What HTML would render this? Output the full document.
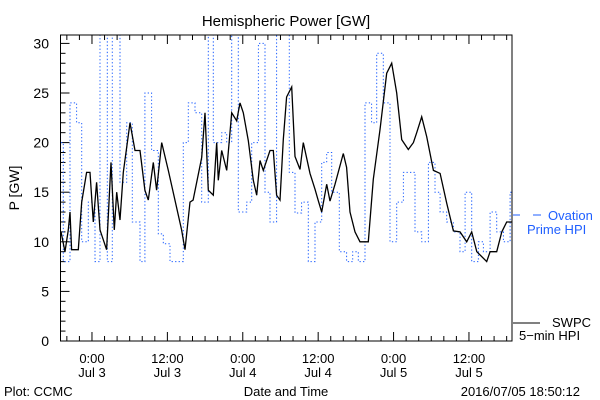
<!DOCTYPE html>
<html><head><meta charset="utf-8"><style>
body{margin:0;background:#fff;}
svg{display:block;font-family:"Liberation Sans",sans-serif;}
</style></head><body>
<svg id="chart" width="600" height="400" viewBox="0 0 600 400">
<rect width="600" height="400" fill="#fff"/>
<text x="286" y="26" font-size="15" text-anchor="middle">Hemispheric Power [GW]</text>
<text x="0" y="0" font-size="14" text-anchor="middle" transform="translate(19,188) rotate(-90)">P [GW]</text>
<g id="yticks"></g>
<g id="xticks"></g>
<defs><clipPath id="pc"><rect x="60.5" y="35" width="451.5" height="306"/></clipPath></defs>
<g clip-path="url(#pc)">
<path id="blue" fill="none" stroke="#1f5fff" stroke-width="1" stroke-dasharray="1.3 2.2"/>
<path id="black" fill="none" stroke="#000" stroke-width="1.3"/>
</g>
<rect x="60.5" y="35" width="451.5" height="306" fill="none" stroke="#000" stroke-width="1"/>
<g>
<line x1="513" y1="215" x2="520" y2="215" stroke="#1f5fff"/>
<line x1="533" y1="215" x2="541" y2="215" stroke="#1f5fff"/>
<text x="548" y="220" font-size="13" fill="#1f5fff">Ovation</text>
<text x="527" y="234" font-size="13" fill="#1f5fff">Prime HPI</text>
</g>
<g>
<line x1="513" y1="323" x2="540" y2="323" stroke="#000"/>
<text x="552" y="327" font-size="13">SWPC</text>
<text x="519" y="340" font-size="13">5−min HPI</text>
</g>
<text x="286" y="396" font-size="13" text-anchor="middle">Date and Time</text>
<text x="4" y="396" font-size="13">Plot: CCMC</text>
<text x="580" y="396" font-size="13" text-anchor="end">2016/07/05 18:50:12</text>
</svg>
<script>
const blackHours=[-4.93,-4.30,-3.77,-3.50,-3.24,-2.18,-1.64,-0.85,-0.32,0.21,0.74,1.27,2.33,3.02,3.55,3.93,4.46,4.99,6.05,6.84,7.64,8.43,8.96,9.76,10.29,11.09,12.15,14.27,14.8,15.6,16.1,17.46,17.99,18.52,19.31,19.85,20.11,20.64,21.44,22.23,23.03,23.56,24.09,24.88,25.68,26.21,26.74,27.27,28.33,28.86,29.39,29.92,30.45,30.98,31.78,32.31,33.11,33.64,34.70,35.50,36.03,36.56,37.35,37.88,38.68,40.0,40.53,41.06,41.86,42.66,43.98,44.78,45.84,46.90,47.70,48.50,49.29,50.35,51.15,51.68,52.48,53.27,54.34,55.40,56.46,57.52,58.58,59.64,60.44,61.24,62.83,63.36,64.42,65.22,66.01,66.81];
const blackValues=[11.0,9.0,11.2,13.0,9.2,9.2,14.0,17.0,17.0,12.0,16.0,11.2,9.2,18.0,11.2,15.0,12.2,17.0,22.0,19.2,19.2,15.2,14.2,18.0,15.2,20.0,17.2,11.2,9.2,14.0,14.2,18.5,23.0,15.2,14.7,20.0,16.2,19.2,17.2,23.0,22.2,24.0,23.0,20.2,16.2,14.7,18.2,17.2,19.2,19.2,14.7,14.2,20.3,24.6,25.6,18.6,17.3,20.0,16.9,15.3,14.1,13.0,15.8,14.1,15.8,18.9,17.5,13.0,11.0,10.0,10.0,16.3,21.3,27.0,28.0,25.0,20.3,19.3,20.0,21.0,22.6,20.6,17.2,16.9,13.9,11.1,11.0,10.0,11.0,9.0,8.0,9.0,9.0,11.0,12.0,12.0];
const blueHours=[-4.93,-4.56,-3.50,-2.44,-1.64,-0.58,0.48,1.27,2.44,3.24,4.46,5.52,6.42,7.64,8.43,9.49,10.55,11.35,12.41,14.53,15.33,16.39,17.46,18.52,19.31,20.64,21.44,22.23,23.29,24.62,25.42,26.48,27.54,28.33,29.39,31.41,32.31,33.37,34.43,35.50,36.56,37.35,38.15,39.37,40.53,41.49,42.39,43.45,44.51,45.31,46.37,47.43,48.50,49.56,51.41,52.48,53.54,54.60,55.40,56.46,57.52,58.58,59.38,60.44,61.50,62.30,63.36,64.42,65.48,66.54];
const blueValues=[20,8,24,22,10,14,8,31,8,31,16,22,12,8,25,19.2,10.8,9.8,8,20,24,23,14,31,20,21,20,31,13,14,20,30,15,12,31,17,12.9,14,8,12,18,19,15,9,8,9,8,24,22,29,24,10,14,17,11,10,18,15,13,12,11,9,15,8,10,9,13,11,10,15];
const yTickValues=[0,5,10,15,20,25,30];
const xTickHours=[0,12,24,36,48,60];
const xTickTimes=["0:00","12:00","0:00","12:00","0:00","12:00"];
const xTickDates=["Jul 3","Jul 3","Jul 4","Jul 4","Jul 5","Jul 5"];
const H_MIN=-5.01,H_MAX=66.85,X0=60.5,X1=512,Y0=341,PXV=9.92;
function xs(h){return X0+(h-H_MIN)/(H_MAX-H_MIN)*(X1-X0);}
function ys(v){return Y0-v*PXV;}
const NS="http://www.w3.org/2000/svg";
// black line
let d="";
blackHours.forEach((h,i)=>{d+=(i?"L":"M")+xs(blackHours[i]).toFixed(1)+","+ys(blackValues[i]).toFixed(1);});
document.getElementById("black").setAttribute("d",d);
// blue steps
let b="";
blueHours.forEach((h,i)=>{
  const xa=xs(h), xb=xs(i+1<blueHours.length?blueHours[i+1]:H_MAX), y=ys(blueValues[i]);
  b+=(i?"L":"M")+xa.toFixed(1)+","+y.toFixed(1)+"L"+xb.toFixed(1)+","+y.toFixed(1);
});
document.getElementById("blue").setAttribute("d",b);
// y ticks
const yg=document.getElementById("yticks");
for(let v=0;v<=30;v++){
  const l=document.createElementNS(NS,"line");
  const major=v%5===0;
  l.setAttribute("x1",X0);l.setAttribute("x2",X0+(major?9:5));
  l.setAttribute("y1",ys(v));l.setAttribute("y2",ys(v));l.setAttribute("stroke","#000");
  
  
  yg.appendChild(l);
}
yTickValues.forEach(v=>{
  const t=document.createElementNS(NS,"text");
  t.setAttribute("x",49);t.setAttribute("y",ys(v)+5);t.setAttribute("font-size","14");t.setAttribute("text-anchor","end");
  t.textContent=v;
  
  
  yg.appendChild(t);
});
// x ticks
const xg=document.getElementById("xticks");
for(let h=-4;h<=66;h+=2){
  const major=h%12===0;
  ["bot","top"].forEach(side=>{
    const l=document.createElementNS(NS,"line");
    const x=xs(h);
    l.setAttribute("x1",x);l.setAttribute("x2",x);
    if(side==="bot"){l.setAttribute("y1",Y0);l.setAttribute("y2",Y0-(major?9:5));}
    else{l.setAttribute("y1",35);l.setAttribute("y2",35+(major?9:5));}
    l.setAttribute("stroke","#000");
    
    
    xg.appendChild(l);
  });
}
xTickHours.forEach((h,i)=>{
  const t1=document.createElementNS(NS,"text");
  t1.setAttribute("x",xs(h));t1.setAttribute("y",363);t1.setAttribute("font-size","13");t1.setAttribute("text-anchor","middle");
  t1.textContent=xTickTimes[i];
  
  
  xg.appendChild(t1);
  const t2=document.createElementNS(NS,"text");
  t2.setAttribute("x",xs(h));t2.setAttribute("y",377);t2.setAttribute("font-size","13");t2.setAttribute("text-anchor","middle");
  t2.textContent=xTickDates[i];
  
  
  xg.appendChild(t2);
});
</script>
</body></html>
